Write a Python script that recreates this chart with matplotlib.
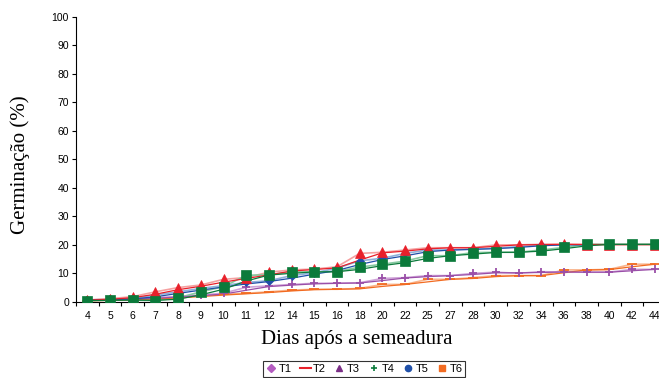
import numpy as np
import pandas as pd
import matplotlib
matplotlib.use("Agg")
import matplotlib.pyplot as plt
from matplotlib.lines import Line2D

# Dias (eixo categórico, espaçamento igual)
dias = [4, 5, 6, 7, 8, 9, 10, 11, 12, 14, 15, 16, 18, 20, 22, 25, 27, 28,
        30, 32, 34, 36, 38, 40, 42, 44]

# Germinação (%)
t_verm = [0.5, 1.0, 1.7, 3.4, 4.9, 5.8, 7.8, 8.4, 10.3, 11.1, 11.4, 12.2, 16.9,
          17.3, 18.1, 18.9, 18.9, 18.9, 19.9, 19.9, 20.1, 20.1, 20.0, 20.0, 20.0, 20.0]
t_verde = [0.3, 0.5, 0.5, 0.3, 1.3, 3.4, 5.2, 9.2, 9.4, 10.4, 10.4, 10.5, 12.1,
           13.1, 14.2, 16.1, 16.1, 17.2, 17.3, 17.3, 18.1, 19.0, 20.1, 20.1, 20.1, 20.1]
t_azul = [0.5, 0.8, 1.0, 2.3, 3.4, 4.6, 5.6, 6.7, 7.3, 9.1, 10.1, 11.7, 14.3,
          15.2, 16.9, 18.1, 18.1, 18.5, 18.7, 19.3, 19.9, 19.9,
          np.nan, np.nan, np.nan, np.nan]
t_roxo = [0.5, 0.8, 1.0, 1.3, 1.8, 2.3, 2.9, 5.0, 5.5, 6.0, 6.4, 6.4, 6.6, 8.1,
          8.4, 9.1, 9.1, 9.9, 10.3, 9.9, 10.5, 10.3, 10.3, 10.3, 11.3, 11.3]
t_laranja = [0.3, 0.5, 0.8, 1.0, 1.5, 2.0, 2.5, 2.9, 3.4, 4.0, 4.3, 4.3, 4.6, 6.0,
             6.0, 7.8, 7.8, 8.4, 9.1, 9.1, 9.1, 11.1, 11.1, 11.3, 13.1, 13.1]

x = np.arange(len(dias))

fig = plt.figure(figsize=(6.59, 3.78), dpi=100)
ax = fig.add_axes([76 / 659, 76.5 / 378, 590 / 659, 284.5 / 378])

series = [
    # dados, cor do marcador, cor clara, marcador, tamanho
    (t_laranja, "#F26B21", "#F9B48C", "_", 7),
    (t_roxo, "#9A4FA8", "#CFA3D8", "+", 6),
    (t_azul, "#1F4FA8", "#8FB0DA", "D", 4.5),
    (t_verm, "#E8202A", "#F5A0A0", "^", 6.5),
    (t_verde, "#0B7A3B", "#86C9A0", "s", 6.5),
]

for vals, cor, clara, mk, ms in series:
    s = pd.Series(vals)
    media = s.rolling(2, min_periods=1).mean()   # linha de tendência (média móvel)
    ax.plot(x, s.interpolate(limit_area="inside"), color=clara, lw=1.2, zorder=2)
    ax.plot(x, media, color=cor, lw=0.9, zorder=3)

for vals, cor, clara, mk, ms in series:
    ax.plot(x, vals, linestyle="none", marker=mk, color=cor, markersize=ms,
            markeredgewidth=1.3 if mk in "+_" else 0.5, zorder=4)

ax.set_xlim(-0.5, len(dias) - 0.5)
ax.set_ylim(0, 100)
ax.set_yticks(np.arange(0, 101, 10))
ax.set_xticks(x)
ax.set_xticklabels([str(d) for d in dias])
ax.set_xticks(np.arange(-0.5, len(dias), 1), minor=True)
ax.tick_params(axis="x", which="major", length=0, pad=7, labelsize=7.5)
ax.tick_params(axis="x", which="minor", length=3, width=0.8, direction="out")
ax.tick_params(axis="y", length=3, width=0.8, labelsize=7.5, pad=2)
for lbl in ax.get_xticklabels() + ax.get_yticklabels():
    lbl.set_family("Liberation Sans")
ax.spines["top"].set_visible(False)
ax.spines["right"].set_visible(False)
ax.spines["left"].set_linewidth(0.8)
ax.spines["bottom"].set_linewidth(0.8)

ax.set_ylabel("Germinação (%)", family="Liberation Serif", fontsize=15)
ax.yaxis.set_label_coords(-46 / 590, 0.48)
ax.set_xlabel("Dias após a semeadura", family="Liberation Serif", fontsize=15)
ax.xaxis.set_label_coords((357 - 76) / 590, -38 / 284.5)
ax.xaxis.label.set_va("center")

handles = [
    Line2D([], [], ls="none", marker="D", color="#B45CC0", ms=4),
    Line2D([], [], color="#E8202A", lw=1.5),
    Line2D([], [], ls="none", marker="^", color="#7A2E86", ms=5),
    Line2D([], [], ls="none", marker="+", color="#0B7A3B", ms=5, mew=1.2),
    Line2D([], [], ls="none", marker="o", color="#1F4FA8", ms=4.5),
    Line2D([], [], ls="none", marker="s", color="#F26B21", ms=4.5),
]
leg = fig.legend(handles, ["T1", "T2", "T3", "T4", "T5", "T6"], loc="center",
                 bbox_to_anchor=(364 / 659, 1 - 369 / 378), ncol=6,
                 prop={"family": "Liberation Sans", "size": 8},
                 handlelength=1.0, handletextpad=0.2, columnspacing=0.7,
                 borderpad=0.25, fancybox=False, frameon=True)
leg.get_frame().set_edgecolor("black")
leg.get_frame().set_linewidth(0.8)

fig.savefig("out.png", dpi=100)
